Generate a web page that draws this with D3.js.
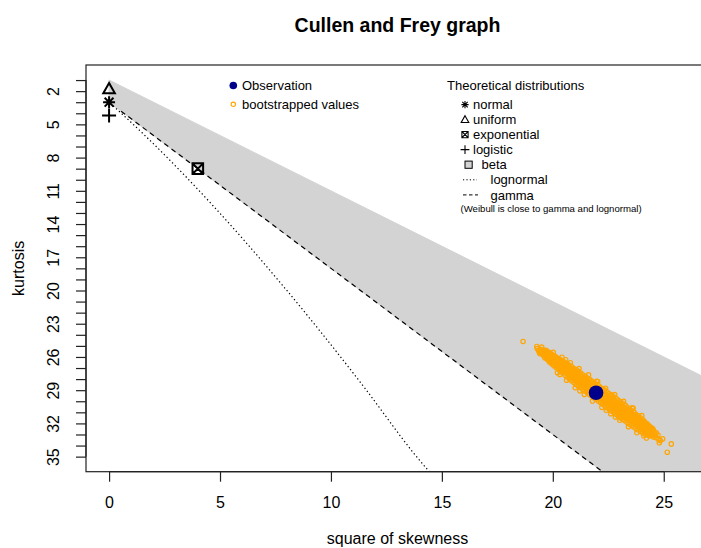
<!DOCTYPE html>
<html><head><meta charset="utf-8">
<script src="https://cdn.jsdelivr.net/npm/d3@7"></script>
<style>body{margin:0;background:#fff}svg{display:block}</style>
</head><body>
<svg id="chart" width="701" height="548"></svg>
<script>
// ---------- data ----------
const chartTitle = "Cullen and Frey graph";
const xLabel = "square of skewness";
const yLabel = "kurtosis";
const xTicks = [0, 5, 10, 15, 20, 25];
const yTicks = [1,2,3,4,5,6,7,8,9,10,11,12,13,14,15,16,17,18,19,20,21,22,23,24,25,26,27,28,29,30,31,32,33,34,35];
const yTickLabels = [2, 5, 8, 11, 14, 17, 20, 23, 26, 29, 32, 35];

const observation = [21.95, 29.23];
const normalPoint = [0, 3];
const uniformPoint = [0, 1.8];
const exponentialPoint = [4, 9];
const logisticPoint = [0, 4.2];

const betaS2 = [0, 40, 40, 0];
const betaKurt = [1, 41, 63, 3];
const gammaS2 = [0.541, 29.56];
const gammaKurt = [3.81, 47.34];
const lognormalS2 = [0.182, 0.465, 0.961, 1.488, 2.048, 3.267, 4.624, 6.125, 7.776, 9.583, 11.552, 13.689, 15.012];
const lognormalKurt = [3.33, 3.84, 4.76, 5.76, 6.85, 9.32, 12.21, 15.56, 19.43, 23.85, 28.88, 34.58, 37.70];

const bootstrapped = [
[18.66,24.60],[19.30,25.25],[19.36,25.45],[19.40,25.62],[19.28,25.05],[19.50,25.10],
[19.44,25.31],[19.47,25.52],[19.43,25.70],
[19.56,25.38],[19.53,25.60],[19.57,25.85],[19.54,25.72],
[19.66,25.48],[19.63,25.70],[19.67,25.90],[19.64,26.08],
[19.74,25.58],[19.77,25.80],[19.73,26.00],[19.76,26.22],[19.75,26.10],
[19.86,25.66],[19.83,25.90],[19.87,26.12],[19.84,26.34],[19.85,26.45],
[19.94,25.78],[19.97,26.02],[19.93,26.25],[19.96,26.48],[19.95,26.62],
[20.06,25.90],[20.03,26.15],[20.07,26.38],[20.04,26.60],[20.05,26.80],
[20.14,26.00],[20.17,26.28],[20.13,26.50],[20.16,26.74],[20.15,26.95],
[20.26,26.15],[20.23,26.40],[20.27,26.66],[20.24,26.90],[20.25,27.10],
[20.34,26.25],[20.37,26.52],[20.33,26.80],[20.36,27.05],[20.35,27.30],
[20.46,26.40],[20.43,26.68],[20.47,26.95],[20.44,27.20],[20.45,27.45],
[20.54,26.50],[20.57,26.80],[20.53,27.10],[20.56,27.38],[20.55,27.65],
[20.66,26.65],[20.63,26.95],[20.67,27.25],[20.64,27.52],[20.65,27.80],
[20.74,26.75],[20.77,27.08],[20.73,27.40],[20.76,27.70],[20.75,27.98],
[20.86,26.90],[20.83,27.22],[20.87,27.55],[20.84,27.85],[20.85,28.15],
[20.94,27.05],[20.97,27.38],[20.93,27.70],[20.96,28.00],[20.95,28.30],
[21.06,27.15],[21.03,27.50],[21.07,27.84],[21.04,28.15],[21.05,28.48],
[21.14,27.30],[21.17,27.65],[21.13,27.99],[21.16,28.30],[21.15,28.62],
[21.26,27.45],[21.23,27.80],[21.27,28.14],[21.24,28.45],[21.25,28.78],
[21.34,27.60],[21.37,27.95],[21.33,28.29],[21.36,28.60],[21.35,28.93],
[21.46,27.72],[21.43,28.08],[21.47,28.43],[21.44,28.75],[21.45,29.08],
[21.54,27.88],[21.57,28.22],[21.53,28.58],[21.56,28.90],[21.55,29.22],
[21.66,28.02],[21.63,28.38],[21.67,28.73],[21.64,29.05],[21.65,29.38],
[21.74,28.15],[21.77,28.52],[21.73,28.87],[21.76,29.20],[21.75,29.52],
[21.86,28.30],[21.83,28.66],[21.87,29.02],[21.84,29.35],[21.85,29.68],
[21.94,28.45],[21.97,28.80],[21.93,29.17],[21.96,29.50],[21.95,29.82],
[22.06,28.60],[22.03,28.95],[22.07,29.32],[22.04,29.65],[22.05,29.98],
[22.14,28.75],[22.17,29.10],[22.13,29.46],[22.16,29.80],[22.15,30.12],
[22.26,28.88],[22.23,29.25],[22.27,29.61],[22.24,29.95],[22.25,30.28],
[22.34,29.02],[22.37,29.40],[22.33,29.76],[22.36,30.10],[22.35,30.42],
[22.46,29.18],[22.43,29.55],[22.47,29.91],[22.44,30.25],[22.45,30.58],
[22.54,29.32],[22.57,29.70],[22.53,30.05],[22.56,30.40],[22.55,30.72],
[22.66,29.45],[22.63,29.82],[22.67,30.20],[22.64,30.55],[22.65,30.88],
[22.74,29.60],[22.77,29.98],[22.73,30.35],[22.76,30.70],[22.75,31.02],
[22.86,29.75],[22.83,30.12],[22.87,30.49],[22.84,30.85],[22.85,31.18],
[22.94,29.90],[22.97,30.28],[22.93,30.64],[22.96,31.00],[22.95,31.32],
[23.06,30.05],[23.03,30.42],[23.07,30.79],[23.04,31.15],[23.05,31.48],
[23.14,30.20],[23.17,30.58],[23.13,30.94],[23.16,31.30],[23.15,31.62],
[23.26,30.35],[23.23,30.72],[23.27,31.08],[23.24,31.42],[23.25,31.75],
[23.34,30.52],[23.37,30.88],[23.33,31.23],[23.36,31.58],[23.35,31.90],
[23.46,30.68],[23.43,31.02],[23.47,31.38],[23.44,31.72],[23.45,32.05],
[23.54,30.85],[23.57,31.18],[23.53,31.52],[23.56,31.85],[23.55,32.18],
[23.66,31.00],[23.63,31.32],[23.67,31.67],[23.64,32.00],[23.65,32.32],
[23.74,31.18],[23.77,31.50],[23.73,31.82],[23.76,32.12],[23.75,32.45],
[23.86,31.32],[23.83,31.65],[23.87,31.97],[23.84,32.28],[23.85,32.60],
[23.94,31.50],[23.97,31.80],[23.93,32.11],[23.96,32.42],[23.95,32.70],
[24.06,31.68],[24.03,31.96],[24.07,32.26],[24.04,32.55],[24.05,32.85],
[24.14,31.85],[24.17,32.12],[24.13,32.41],[24.16,32.70],[24.15,32.95],
[24.26,32.05],[24.23,32.30],[24.27,32.55],[24.24,32.80],[24.25,33.05],
[24.34,32.25],[24.37,32.48],[24.33,32.70],[24.36,32.95],[24.35,33.12],
[24.46,32.45],[24.43,32.65],[24.47,32.85],[24.44,33.10],
[24.54,32.65],[24.57,32.85],[24.53,33.05],[24.56,33.25],
[24.66,32.85],[24.63,33.05],[24.67,33.30],
[24.74,33.05],[24.78,33.45],[24.85,33.55],[24.95,33.40],[24.80,33.75],
[25.34,33.85],[25.16,34.60],
[20.02,25.58],[20.21,27.42],[20.41,26.02],[20.62,28.10],[20.79,26.52],[21.01,28.78],
[21.18,27.05],[21.42,29.38],[21.61,27.62],[21.79,29.98],[22.02,28.22],[22.21,30.55],
[22.38,28.82],[22.61,31.12],[22.79,29.40],[23.02,31.72],[23.19,30.00],[23.41,32.30],
[23.62,30.62],[23.79,32.85],[24.01,31.30],[24.22,33.32],[20.58,26.25],[21.22,29.06],
[21.98,28.20],[22.82,31.42],[23.58,30.60],[24.10,33.12],[20.32,27.58],[22.41,30.82],
[19.70,25.40],[19.70,26.05],[19.80,25.55],[19.80,26.20],[19.90,25.70],[19.90,26.35],
[20.00,25.84],[20.00,26.49],[20.10,25.99],[20.10,26.64],[20.20,26.14],[20.20,26.79],
[20.30,26.29],[20.30,26.94],[20.40,26.43],[20.40,27.08],[20.50,26.58],[20.50,27.23],
[20.60,26.73],[20.60,27.38],[20.70,26.88],[20.70,27.53],[20.80,27.02],[20.80,27.67],
[20.90,27.17],[20.90,27.82],[21.00,27.32],[21.00,27.97],[21.10,27.47],[21.10,28.12],
[21.20,27.61],[21.20,28.26],[21.30,27.76],[21.30,28.41],[21.40,27.91],[21.40,28.56],
[21.50,28.05],[21.50,28.70],[21.60,28.20],[21.60,28.85],[21.70,28.35],[21.70,29.00],
[21.80,28.50],[21.80,29.15],[21.90,28.64],[21.90,29.29],[22.00,28.79],[22.00,29.44],
[22.10,28.94],[22.10,29.59],[22.20,29.09],[22.20,29.74],[22.30,29.23],[22.30,29.88],
[22.40,29.38],[22.40,30.03],[22.50,29.53],[22.50,30.18],[22.60,29.68],[22.60,30.33],
[22.70,29.82],[22.70,30.47],[22.80,29.97],[22.80,30.62],[22.90,30.12],[22.90,30.77],
[23.00,30.26],[23.00,30.91],[23.10,30.41],[23.10,31.06],[23.20,30.56],[23.20,31.21],
[23.30,30.71],[23.30,31.36],[23.40,30.85],[23.40,31.50],[23.50,31.00],[23.50,31.65],
[23.60,31.15],[23.60,31.80],[23.70,31.30],[23.70,31.95],[23.80,31.44],[23.80,32.09],
[23.90,31.59],[23.90,32.24],[24.00,31.74],[24.00,32.39],[24.10,31.89],[24.10,32.54],
[24.20,32.03],[24.20,32.68],[24.30,32.18],[24.30,32.83],[24.40,32.33],[24.40,32.98],
[24.50,32.47],[24.50,33.12]
];

// ---------- layout ----------
const svg = d3.select("#chart");
const font = "'Liberation Sans', Arial, Helvetica, sans-serif";
const plotL = 86, plotR = 709, plotT = 65, plotB = 471.7;
const x = d3.scaleLinear().domain([-1.04, 27.04]).range([plotL, plotR]);
const y = d3.scaleLinear().domain([-0.36, 36.36]).range([plotT, plotB]);

svg.append("defs").append("clipPath").attr("id", "plotclip")
  .append("rect").attr("x", plotL).attr("y", plotT)
  .attr("width", plotR - plotL).attr("height", plotB - plotT);

const plot = svg.append("g").attr("clip-path", "url(#plotclip)");

// beta region
plot.append("path")
  .attr("d", d3.line()(betaS2.map((s, i) => [x(s), y(betaKurt[i])])) + "Z")
  .attr("fill", "#d3d3d3").attr("stroke", "#d3d3d3");

// gamma (dashed)
plot.append("path")
  .attr("d", d3.line()(gammaS2.map((s, i) => [x(s), y(gammaKurt[i])])))
  .attr("fill", "none").attr("stroke", "#000").attr("stroke-width", 1.2)
  .attr("stroke-dasharray", "5,4");

// lognormal (dotted)
plot.append("path")
  .attr("d", d3.line().curve(d3.curveMonotoneX)(lognormalS2.map((s, i) => [x(s), y(lognormalKurt[i])])))
  .attr("fill", "none").attr("stroke", "#000").attr("stroke-width", 1.2)
  .attr("stroke-dasharray", "1.3,2.6");

// bootstrapped values
plot.append("g").selectAll("circle").data(bootstrapped).join("circle")
  .attr("cx", d => x(d[0])).attr("cy", d => y(d[1])).attr("r", 2.2)
  .attr("fill", "none").attr("stroke", "#FFA500").attr("stroke-width", 1.2);

// observation
plot.append("circle").attr("cx", x(observation[0])).attr("cy", y(observation[1]))
  .attr("r", 7.3).attr("fill", "#00008B");

// symbol helpers
function star(g, cx, cy, h, d, sw) {
  g.append("path").attr("d",
    `M${cx-h},${cy}L${cx+h},${cy}M${cx},${cy-h}L${cx},${cy+h}` +
    `M${cx-d},${cy-d}L${cx+d},${cy+d}M${cx-d},${cy+d}L${cx+d},${cy-d}`)
    .attr("stroke", "#000").attr("stroke-width", sw).attr("fill", "none");
}
function triangle(g, cx, cy, w, top, bot, sw) {
  g.append("path").attr("d", `M${cx},${cy-top}L${cx+w},${cy+bot}L${cx-w},${cy+bot}Z`)
    .attr("stroke", "#000").attr("stroke-width", sw).attr("fill", "none");
}
function plus(g, cx, cy, h, sw) {
  g.append("path").attr("d", `M${cx-h},${cy}L${cx+h},${cy}M${cx},${cy-h}L${cx},${cy+h}`)
    .attr("stroke", "#000").attr("stroke-width", sw).attr("fill", "none");
}
function boxX(g, cx, cy, h, sw) {
  g.append("path").attr("d",
    `M${cx-h},${cy-h}L${cx+h},${cy-h}L${cx+h},${cy+h}L${cx-h},${cy+h}Z` +
    `M${cx-h},${cy-h}L${cx+h},${cy+h}M${cx-h},${cy+h}L${cx+h},${cy-h}`)
    .attr("stroke", "#000").attr("stroke-width", sw).attr("fill", "none");
}

const sym = svg.append("g");
triangle(sym, x(uniformPoint[0]), y(uniformPoint[1]), 5.8, 6, 4.3, 2);
star(sym, x(normalPoint[0]), y(normalPoint[1]), 6, 4.4, 2);
plus(sym, x(logisticPoint[0]), y(logisticPoint[1]), 7, 2);
boxX(sym, x(exponentialPoint[0]), y(exponentialPoint[1]), 5.3, 2);

// box
svg.append("rect").attr("x", plotL).attr("y", plotT)
  .attr("width", plotR - plotL).attr("height", plotB - plotT)
  .attr("fill", "none").attr("stroke", "#222").attr("stroke-width", 1.2);

// x axis
const xAxis = svg.append("g").attr("transform", `translate(0,${plotB})`)
  .call(d3.axisBottom(x).tickValues(xTicks).tickSize(10).tickPadding(20).tickSizeOuter(0));
xAxis.select(".domain").attr("d", `M${x(xTicks[0])},0H${x(xTicks[xTicks.length-1])}`).attr("stroke", "#222").attr("stroke-width", 1.2);
xAxis.selectAll(".tick line").attr("stroke", "#222").attr("stroke-width", 1.2);
xAxis.selectAll(".tick text").attr("font-family", font).attr("font-size", 16).attr("fill", "#000")
  .attr("dy", "0").attr("y", 36);

// y axis
const yAxis = svg.append("g").attr("transform", `translate(${plotL},0)`)
  .call(d3.axisLeft(y).tickValues(yTicks).tickSize(10).tickSizeOuter(0)
    .tickFormat(d => yTickLabels.includes(d) ? String(d) : ""));
yAxis.select(".domain").attr("d", `M0,${y(yTicks[0])}V${y(yTicks[yTicks.length-1])}`).attr("stroke", "#222").attr("stroke-width", 1.2);
yAxis.selectAll(".tick line").attr("stroke", "#222").attr("stroke-width", 1.2);
yAxis.selectAll(".tick text").attr("font-family", font).attr("font-size", 16).attr("fill", "#000")
  .attr("x", null).attr("dy", null)
  .attr("text-anchor", "middle")
  .attr("transform", "translate(-27,0) rotate(-90)");

// titles
svg.append("text").attr("x", (plotL + plotR) / 2).attr("y", 32).attr("text-anchor", "middle")
  .attr("font-family", font).attr("font-weight", "bold").attr("font-size", 19.5).text(chartTitle);
svg.append("text").attr("x", (plotL + plotR) / 2).attr("y", 544).attr("text-anchor", "middle")
  .attr("font-family", font).attr("font-size", 16).text(xLabel);
svg.append("text").attr("transform", `translate(23.5,${(plotT + plotB) / 2}) rotate(-90)`)
  .attr("text-anchor", "middle").attr("font-family", font).attr("font-size", 16).text(yLabel);

// legend 1
const leg = svg.append("g").attr("font-family", font).attr("font-size", 13);
leg.append("circle").attr("cx", 233.3).attr("cy", 85.5).attr("r", 3.8).attr("fill", "#00008B");
leg.append("text").attr("x", 242).attr("y", 90).text("Observation");
leg.append("circle").attr("cx", 233.3).attr("cy", 104.3).attr("r", 2.2).attr("fill", "none")
  .attr("stroke", "#FFA500").attr("stroke-width", 1.1);
leg.append("text").attr("x", 242).attr("y", 109).text("bootstrapped values");

// legend 2
const leg2 = svg.append("g").attr("font-family", font).attr("font-size", 13);
leg2.append("text").attr("x", 447).attr("y", 90).text("Theoretical distributions");
const rows = [104.6, 119.6, 134.6, 149.6, 164.7, 179.8, 194.9];
star(leg2, 465, rows[0], 3.6, 2.7, 1.1);
leg2.append("text").attr("x", 473).attr("y", rows[0] + 4.6).text("normal");
triangle(leg2, 465, rows[1], 3.8, 3.9, 2.9, 1.1);
leg2.append("text").attr("x", 473).attr("y", rows[1] + 4.6).text("uniform");
boxX(leg2, 465, rows[2], 3.1, 1.1);
leg2.append("text").attr("x", 473).attr("y", rows[2] + 4.6).text("exponential");
plus(leg2, 465, rows[3], 4.4, 1.1);
leg2.append("text").attr("x", 473).attr("y", rows[3] + 4.6).text("logistic");
leg2.append("rect").attr("x", 465).attr("y", rows[4] - 3.6).attr("width", 7.2).attr("height", 7.2)
  .attr("fill", "#d3d3d3").attr("stroke", "#000").attr("stroke-width", 1);
leg2.append("text").attr("x", 481.5).attr("y", rows[4] + 4.6).text("beta");
leg2.append("line").attr("x1", 463).attr("x2", 477).attr("y1", rows[5]).attr("y2", rows[5])
  .attr("stroke", "#000").attr("stroke-width", 1).attr("stroke-dasharray", "1.2,2.2");
leg2.append("text").attr("x", 490.5).attr("y", rows[5] + 4.6).text("lognormal");
leg2.append("line").attr("x1", 463).attr("x2", 478).attr("y1", rows[6]).attr("y2", rows[6])
  .attr("stroke", "#000").attr("stroke-width", 1).attr("stroke-dasharray", "3.5,2.5");
leg2.append("text").attr("x", 490.5).attr("y", rows[6] + 4.6).text("gamma");
leg2.append("text").attr("x", 460.5).attr("y", 211.5).attr("font-size", 9.6)
  .text("(Weibull is close to gamma and lognormal)");
</script>
</body></html>
